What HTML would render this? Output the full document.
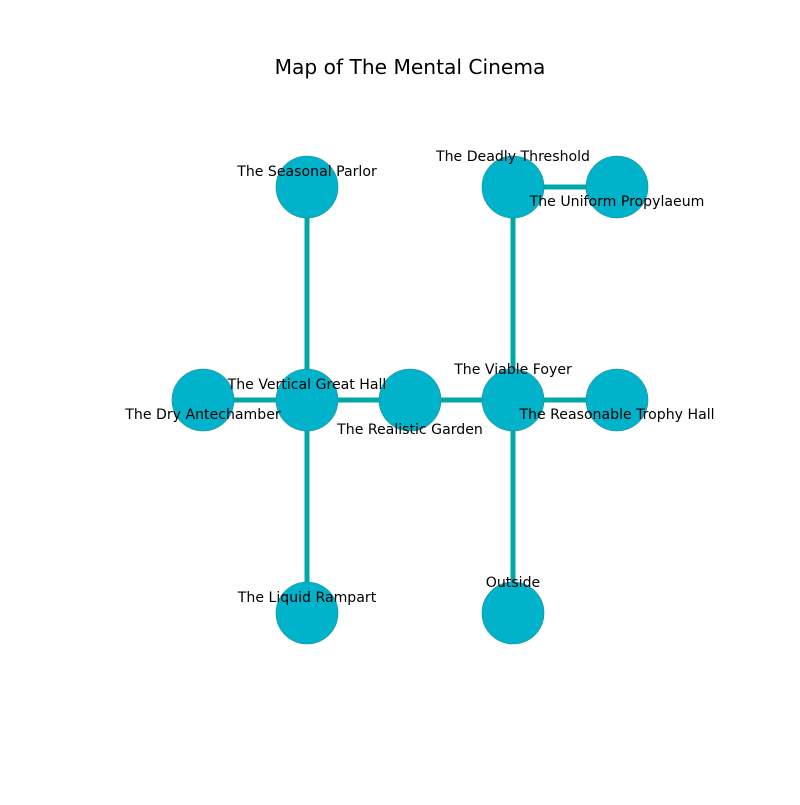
<!DOCTYPE html>
<html><head><style>body{margin:0;background:#fff}</style></head><body>
<svg width="800" height="800" xmlns="http://www.w3.org/2000/svg" font-family="DejaVu Sans, sans-serif">
<rect width="800" height="800" fill="#fff"/>
<text x="410" y="74" font-size="20.2" text-anchor="middle">Map of The Mental Cinema</text>
<g stroke="#00a8a8" stroke-width="5">
<line x1="307" y1="187" x2="307" y2="613"/>
<line x1="203" y1="400" x2="617" y2="400"/>
<line x1="513" y1="187" x2="513" y2="613"/>
<line x1="513" y1="187" x2="617" y2="187"/>
</g>
<g fill="#00b2ca" stroke="#1a8a9a" stroke-width="0.6">
<circle cx="307" cy="187" r="31"/><circle cx="513" cy="187" r="31"/><circle cx="617" cy="187" r="31"/>
<circle cx="203" cy="400" r="31"/><circle cx="307" cy="400" r="31"/><circle cx="410" cy="400" r="31"/>
<circle cx="513" cy="400" r="31"/><circle cx="617" cy="400" r="31"/>
<circle cx="307" cy="613" r="31"/><circle cx="513" cy="613" r="31"/>
</g>
<g font-size="14.1" text-anchor="middle" dominant-baseline="central" fill="#000">
<text x="307" y="172">The Seasonal Parlor</text>
<text x="513" y="157">The Deadly Threshold</text>
<text x="617" y="202">The Uniform Propylaeum</text>
<text x="307" y="385">The Vertical Great Hall</text>
<text x="203" y="415">The Dry Antechamber</text>
<text x="410" y="430">The Realistic Garden</text>
<text x="513" y="370">The Viable Foyer</text>
<text x="617" y="415">The Reasonable Trophy Hall</text>
<text x="307" y="598">The Liquid Rampart</text>
<text x="513" y="583">Outside</text>
</g>
</svg>
</body></html>
